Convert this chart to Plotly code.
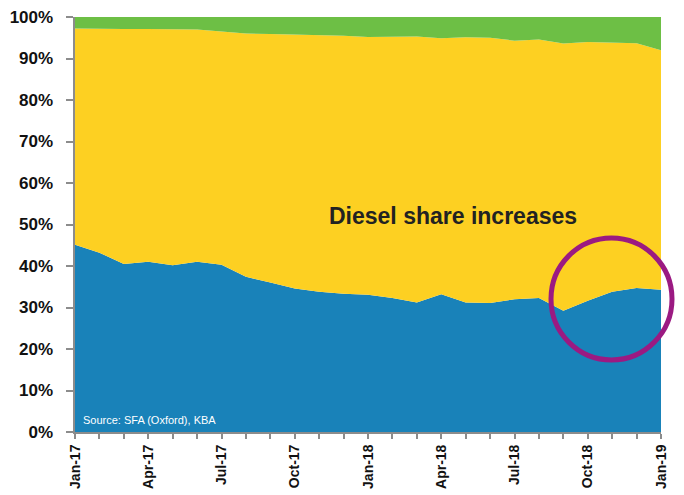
"""
Diesel share of new car registrations (100% stacked area)
"""
import plotly.graph_objects as go

months = [
    "Jan-17", "Feb-17", "Mar-17", "Apr-17", "May-17", "Jun-17", "Jul-17",
    "Aug-17", "Sep-17", "Oct-17", "Nov-17", "Dec-17", "Jan-18", "Feb-18",
    "Mar-18", "Apr-18", "May-18", "Jun-18", "Jul-18", "Aug-18", "Sep-18",
    "Oct-18", "Nov-18", "Dec-18", "Jan-19",
]
tick_labels = [m if i % 3 == 0 else "" for i, m in enumerate(months)]

# shares in %
diesel = [45.1, 43.2, 40.5, 41.0, 40.2, 41.0, 40.3, 37.4, 36.0, 34.6, 33.8, 33.3,
          33.1, 32.3, 31.2, 33.2, 31.2, 31.1, 32.0, 32.3, 29.2, 31.6, 33.8, 34.7, 34.3]
petrol = [52.1, 53.9, 56.6, 56.1, 56.8, 56.0, 56.2, 58.6, 59.9, 61.2, 61.9, 62.2,
          62.1, 63.0, 64.1, 61.7, 63.9, 63.9, 62.3, 62.3, 64.4, 62.4, 60.1, 59.0, 57.7]
other = [2.8, 2.9, 2.9, 2.9, 3.0, 3.0, 3.5, 4.0, 4.1, 4.2, 4.3, 4.5,
         4.8, 4.7, 4.7, 5.1, 4.9, 5.0, 5.7, 5.4, 6.4, 6.0, 6.1, 6.3, 8.0]

fig = go.Figure()
for name, vals, col in [("Diesel", diesel, "#1982b9"),
                        ("Petrol", petrol, "#fdd022"),
                        ("Other", other, "#6dbf45")]:
    fig.add_trace(go.Scatter(
        x=months, y=vals, name=name, mode="lines",
        stackgroup="one", line=dict(width=0, color=col),
        fillcolor=col,
    ))

axis_col = "#8c8c8c"
# page body adds an 8px offset, so margins are shifted to keep the plot in place
fig.update_layout(
    width=684, height=495,
    margin=dict(l=67, r=31, t=9, b=71),
    paper_bgcolor="white", plot_bgcolor="white",
    showlegend=False,
    font=dict(family="Liberation Sans, Arial", color="#111111"),
    xaxis=dict(
        type="category", range=[0, 24], automargin=False,
        tickmode="array", tickvals=months, ticktext=tick_labels,
        tickangle=-90, ticks="outside", ticklen=5, tickwidth=2, tickcolor=axis_col,
        showline=True, linecolor=axis_col, linewidth=2, showgrid=False,
        tickfont=dict(size=14, family="Liberation Sans, Arial", weight="bold"),
    ),
    yaxis=dict(
        range=[0, 100], dtick=10, ticksuffix="%\u00a0\u00a0", automargin=False,
        ticklabeloverflow="allow",
        ticks="outside", ticklen=7, tickwidth=2, tickcolor=axis_col,
        showline=True, linecolor=axis_col, linewidth=2, showgrid=False, zeroline=False,
        tickfont=dict(size=17, family="Liberation Sans, Arial", weight="bold"),
    ),
)

fig.add_annotation(
    text="Diesel share increases", xref="paper", yref="paper",
    x=(453 - 75) / 586, y=(432 - 216) / 415, showarrow=False,
    font=dict(size=23, color="#222222", weight="bold",
              family="Liberation Sans Narrow, Liberation Sans, Arial"),
)
fig.add_annotation(
    text="Source: SFA (Oxford), KBA", xref="paper", yref="paper",
    x=(81 - 75) / 586, y=(432 - 420) / 415, xanchor="left", yanchor="middle",
    showarrow=False,
    font=dict(size=11, color="white",
              family="Liberation Sans Narrow, Liberation Sans, Arial"),
)

# highlight circle
fig.add_shape(
    type="circle", xref="paper", yref="paper",
    x0=(551 - 75) / 586, x1=(672 - 75) / 586,
    y0=(432 - 360) / 415, y1=(432 - 238) / 415,
    line=dict(color="#9b1a82", width=5),
)

fig.write_html("out.html")
